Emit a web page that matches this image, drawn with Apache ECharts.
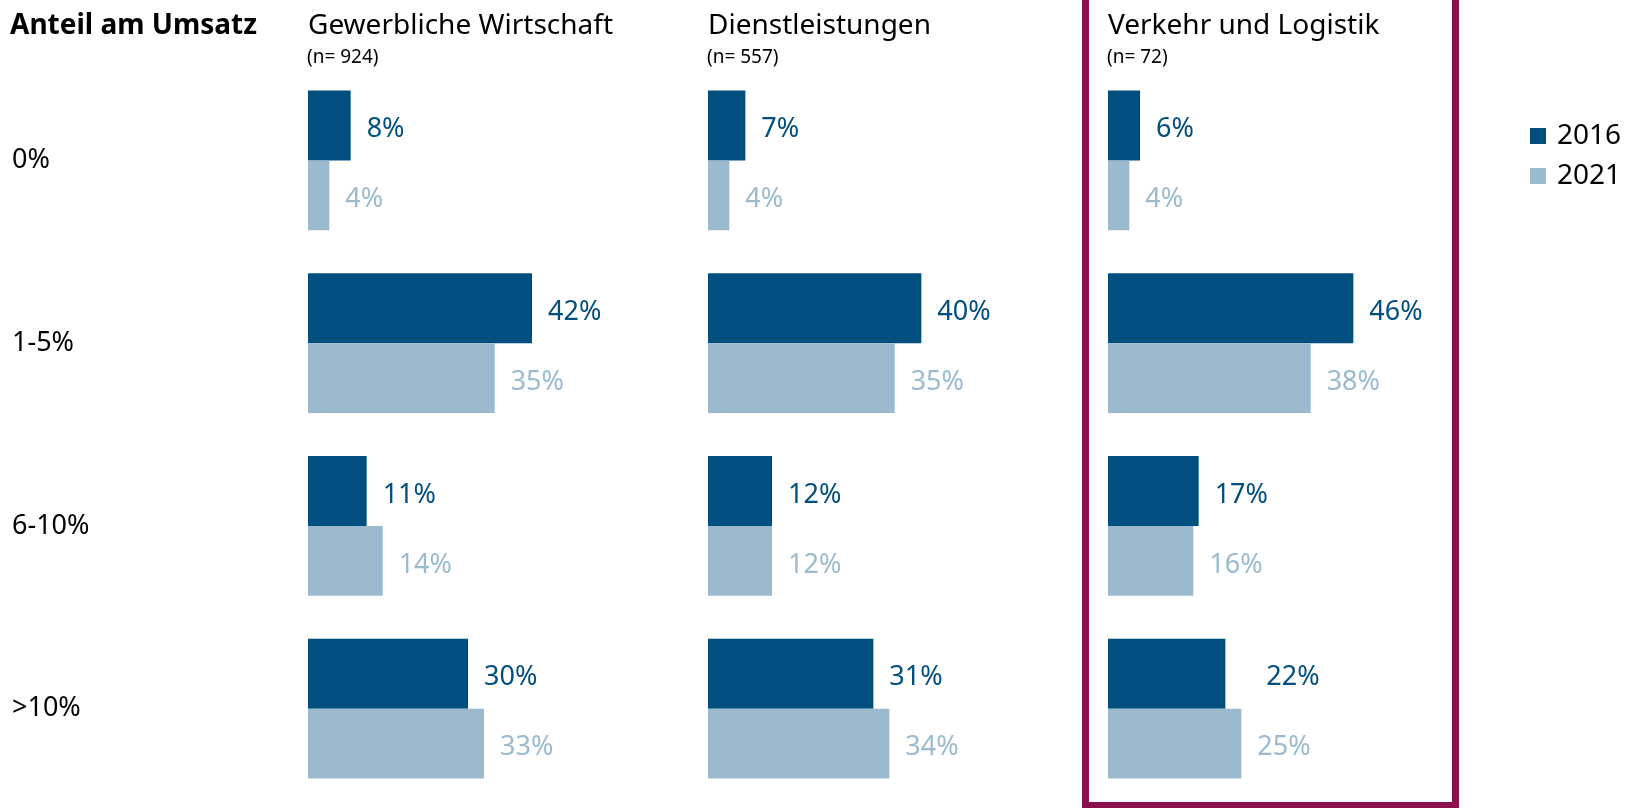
<!DOCTYPE html>
<html style="height: 100%">
<head>
  <meta charset="utf-8">
  <script src="https://cdn.jsdelivr.net/npm/echarts@6/dist/echarts.min.js"></script>
  <style type="text/css">
    * { margin: 0; padding: 0; }
  </style>
</head>
<body style="height: 100%; margin: 0; background: #fff">
  <div id="container" style="width: 1627px; height: 808px"></div>
  <script type="text/javascript">
    var categories = ['0%', '1-5%', '6-10%', '>10%'];
    var panelNames = ['Gewerbliche Wirtschaft', 'Dienstleistungen', 'Verkehr und Logistik'];
    var sampleSizes = ['(n= 924)', '(n= 557)', '(n= 72)'];
    var years = ['2016', '2021'];
    // one row per panel, one value per category
    var values2016 = [
      [8, 42, 11, 30],
      [7, 40, 12, 31],
      [6, 46, 17, 22]
    ];
    var values2021 = [
      [4, 35, 14, 33],
      [4, 35, 12, 34],
      [4, 38, 16, 25]
    ];

    var dark = '#004f7f';
    var light = '#9bbace';
    var font = 'Noto Sans';
    var panelLeft = [308, 708, 1108];

    var dom = document.getElementById('container');
    var myChart = echarts.init(dom);

    var grids = [], xAxes = [], yAxes = [], series = [], graphics = [];

    panelLeft.forEach(function (left, p) {
      grids.push({ left: left, width: 320, top: 69, bottom: 8 });
      xAxes.push({
        type: 'value', gridIndex: p, min: 0, max: 60, show: false
      });
      yAxes.push({
        type: 'category', gridIndex: p, data: categories, inverse: true,
        axisLine: { show: false }, axisTick: { show: false },
        axisLabel: {
          show: p === 0, align: 'left', margin: 296,
          fontFamily: font, fontSize: 27, color: '#000'
        }
      });
      [values2016, values2021].forEach(function (vals, s) {
        var col = s === 0 ? dark : light;
        series.push({
          name: years[s], type: 'bar', xAxisIndex: p, yAxisIndex: p,
          barGap: 0, barCategoryGap: '23.4%',
          itemStyle: { color: col },
          label: {
            show: true, position: 'right', distance: 16, offset: [0, 4],
            formatter: '{c}%', fontFamily: font, fontSize: 27, color: col
          },
          data: vals[p].map(function (v, i) {
            // the 22% label in the last panel sits further out
            if (p === 2 && s === 0 && i === 3) return { value: v, label: { distance: 41 } };
            return v;
          })
        });
      });
      graphics.push({
        type: 'text', x: left, y: 26,
        style: { text: panelNames[p], font: '28px "' + font + '"', fill: '#000', verticalAlign: 'middle' }
      });
      graphics.push({
        type: 'text', x: left - 1, y: 58,
        style: { text: sampleSizes[p], font: '19px "' + font + '"', fill: '#000', verticalAlign: 'middle' }
      });
    });

    graphics.push({
      type: 'text', x: 10, y: 26,
      style: { text: 'Anteil am Umsatz', font: 'bold 28px "' + font + '"', fill: '#000', verticalAlign: 'middle' }
    });
    // highlight frame round the third panel
    graphics.push({
      type: 'rect', silent: true,
      shape: { x: 1085.5, y: -10, width: 370, height: 815.5 },
      style: { fill: 'none', stroke: '#8b104c', lineWidth: 7 }
    });

    var option = {
      animation: false,
      grid: grids,
      xAxis: xAxes,
      yAxis: yAxes,
      legend: {
        data: years, orient: 'vertical', left: 1525, top: 117,
        icon: 'rect', itemWidth: 16, itemHeight: 16, itemGap: 12,
        textStyle: { fontFamily: font, fontSize: 28, color: '#000', padding: [0, 0, 0, 6] }
      },
      graphic: graphics,
      series: series
    };
    myChart.setOption(option, true);
  </script>
</body>
</html>
